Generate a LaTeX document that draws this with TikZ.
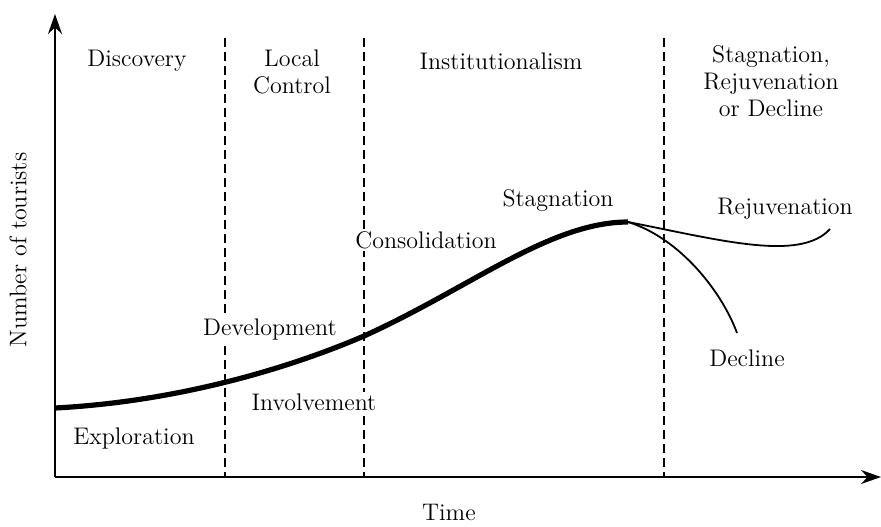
\documentclass[tikz,border=0pt]{standalone}
\usetikzlibrary{arrows.meta}
\tikzset{
  phase/.style={font=\fontsize{12}{13.5}\selectfont, align=center, inner sep=0pt},
  stage/.style={font=\fontsize{12}{13.5}\selectfont, inner sep=1pt, fill=white},
  axisline/.style={line width=0.8pt, -{Stealth[length=10pt,width=7pt]}},
  divider/.style={line width=1pt, dash pattern=on 4.5pt off 2.5pt},
  lifecurve/.style={line width=2.6pt},
  branch/.style={line width=0.9pt},
}
\begin{document}
\begin{tikzpicture}[x=0.5pt,y=-0.5pt]
  \useasboundingbox (0,0) rectangle (881,526);
  % axes
  \coordinate (origin) at (55,477);
  \coordinate (ytop) at (55,14);
  \coordinate (xend) at (881,477);
  \draw[axisline] (origin) -- (ytop);
  \draw[axisline] (origin) -- (xend);
  \node[stage, rotate=90] (ylabel) at (18,250) {Number of tourists};
  \node[stage] (xlabel) at (449,512) {Time};

  % phase dividers
  \foreach \name/\xpos in {dA/225, dB/364, dC/664} {
    \coordinate (\name top) at (\xpos,38);
    \coordinate (\name bot) at (\xpos,477);
    \draw[divider] (\name top) -- (\name bot);
  }

  % phase headings
  \node[phase] (discovery) at (137,61) {Discovery};
  \node[phase] (localctl) at (292,72) {Local\\Control};
  \node[phase] (institution) at (501,61) {Institutionalism};
  \node[phase] (lastphase) at (771,81) {Stagnation,\\Rejuvenation\\or Decline};

  % life cycle curve
  \coordinate (start) at (55,408);
  \coordinate (bend) at (364,336);
  \coordinate (peak) at (628,222);
  \coordinate (rejuv) at (830,229);
  \coordinate (decl) at (737,333);
  \draw[lifecurve] (start) .. controls (170,402) and (280,372) .. (bend)
    .. controls (470,288) and (550,222) .. (peak);
  \draw[branch] (peak) .. controls (720,240) and (800,262) .. (rejuv);
  \draw[branch] (peak) .. controls (680,238) and (722,292) .. (decl);

  % stage labels
  \node[stage] (exploration) at (134,438) {Exploration};
  \node[stage] (involvement) at (314,402) {Involvement};
  \node[stage] (development) at (270,329) {Development};
  \node[stage] (consolidation) at (426,240) {Consolidation};
  \node[stage] (stagnation) at (558,201) {Stagnation};
  \node[stage] (rejuvenation) at (785,209) {Rejuvenation};
  \node[stage] (decline) at (747,358) {Decline};
\end{tikzpicture}
\end{document}
